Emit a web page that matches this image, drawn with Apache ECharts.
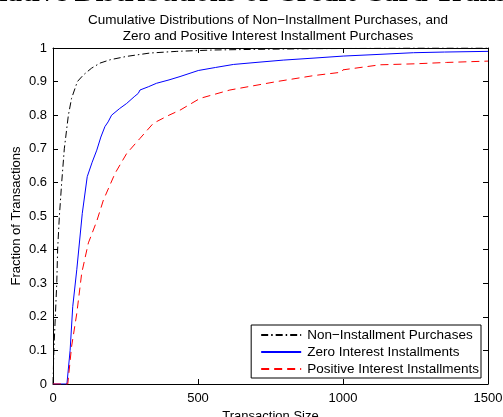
<!DOCTYPE html>
<html>
<head>
<meta charset="utf-8">
<script src="https://cdn.jsdelivr.net/npm/echarts@6/dist/echarts.min.js"></script>
<style>
  html, body { margin: 0; padding: 0; background: #fff; }
  #chart { width: 503px; height: 417px; }
</style>
</head>
<body>
<div id="chart"></div>
<script>
// Cumulative distributions of transaction sizes, by purchase type
const seriesNames = ['Non\u2212Installment Purchases', 'Zero Interest Installments', 'Positive Interest Installments'];

const nonInstX = [0, 3, 8, 13, 16, 22, 30, 39, 53, 64, 84, 105, 133, 162, 197, 254, 334, 427, 550, 700, 900, 1100, 1250, 1500];
const nonInstY = [0, 0.1, 0.2, 0.3, 0.4, 0.5, 0.6, 0.7, 0.8, 0.85, 0.9, 0.92, 0.94, 0.955, 0.965, 0.975, 0.985, 0.99, 0.994, 0.996, 0.998, 0.999, 1, 1];

const zeroX = [0, 48, 59, 68, 82, 101, 118, 135, 151, 165, 179, 190, 202, 230, 254, 280, 294, 300, 330, 357, 400, 438, 501, 560, 622, 700, 794, 900, 1001, 1100, 1243, 1350, 1500];
const zeroY = [0, 0, 0.1, 0.23, 0.34, 0.508, 0.617, 0.66, 0.696, 0.735, 0.766, 0.78, 0.8, 0.82, 0.835, 0.855, 0.865, 0.875, 0.885, 0.895, 0.905, 0.915, 0.933, 0.942, 0.951, 0.957, 0.964, 0.97, 0.976, 0.98, 0.986, 0.988, 0.99];

const posX = [0, 51, 64, 82, 99, 122, 151, 174, 214, 254, 300, 346, 400, 438, 507, 610, 771, 900, 995, 1000, 1128, 1250, 1357, 1500];
const posY = [0, 0, 0.111, 0.21, 0.33, 0.42, 0.485, 0.548, 0.627, 0.686, 0.731, 0.776, 0.8, 0.815, 0.85, 0.875, 0.9, 0.918, 0.928, 0.935, 0.95, 0.953, 0.957, 0.961];

const xTicks = { min: 0, max: 1500, step: 500 };
const yTicks = { min: 0, max: 1, step: 0.1 };

const pairs = (xs, ys) => xs.map((x, i) => [x, ys[i]]);

const font = '"Liberation Sans", Arial, sans-serif';
const chart = echarts.init(document.getElementById('chart'), null, { renderer: 'canvas' });

const frameAxis = {
  axisLine: { show: true, onZero: false, lineStyle: { color: '#000', width: 1 } },
  axisTick: { show: true, inside: true, length: 5, lineStyle: { color: '#000' } },
  splitLine: { show: false }
};

chart.setOption({
  animation: false,
  backgroundColor: '#fff',
  title: [
    {
      text: 'Cumulative Distributions of Credit Card Transactions',
      left: 258, top: -21, textAlign: 'center', padding: 0,
      textStyle: { fontFamily: '"Liberation Serif", "Times New Roman", serif', fontSize: 29, fontWeight: 'bold', color: '#000' }
    },
    {
      text: 'Cumulative Distributions of Non\u2212Installment Purchases, and\nZero and Positive Interest Installment Purchases',
      left: 263, top: 7, textAlign: 'center',
      textStyle: { fontFamily: font, fontSize: 13.5, fontWeight: 'normal', color: '#000', lineHeight: 16 }
    }
  ],
  grid: { left: 53, right: 15, top: 48, bottom: 33, containLabel: false, outerBoundsMode: 'none' },
  legend: {
    orient: 'vertical',
    right: 22, bottom: 39,
    padding: [3, 2, 2, 9],
    itemGap: 3,
    itemWidth: 40, itemHeight: 14,
    backgroundColor: '#fff',
    borderColor: '#000', borderWidth: 1, borderRadius: 0,
    itemStyle: { opacity: 0 },
    textStyle: { fontFamily: font, fontSize: 13.5, color: '#000', padding: [0, 0, 0, 1] },
    data: seriesNames
  },
  xAxis: [
    Object.assign({
      type: 'value', min: xTicks.min, max: xTicks.max, interval: xTicks.step,
      position: 'bottom',
      name: 'Transaction Size', nameLocation: 'middle', nameGap: 22,
      nameTextStyle: { fontFamily: font, fontSize: 13, color: '#000' },
      axisLabel: { fontFamily: font, fontSize: 13, color: '#000', margin: 8, formatter: v => String(v) }
    }, frameAxis),
    Object.assign({
      type: 'value', min: xTicks.min, max: xTicks.max, interval: xTicks.step,
      position: 'top', axisLabel: { show: false }
    }, frameAxis)
  ],
  yAxis: [
    Object.assign({
      type: 'value', min: yTicks.min, max: yTicks.max, interval: yTicks.step,
      position: 'left',
      name: 'Fraction of Transactions', nameLocation: 'middle', nameGap: 30, nameMoveOverlap: false,
      nameTextStyle: { fontFamily: font, fontSize: 13, color: '#000' },
      axisLabel: { fontFamily: font, fontSize: 13, color: '#000', margin: 6, formatter: v => String(Math.round(v * 10) / 10) }
    }, frameAxis),
    Object.assign({
      type: 'value', min: yTicks.min, max: yTicks.max, interval: yTicks.step,
      position: 'right', axisLabel: { show: false }
    }, frameAxis)
  ],
  series: [
    {
      name: seriesNames[0], type: 'line', xAxisIndex: 0, yAxisIndex: 0,
      showSymbol: false, symbol: 'none',
      lineStyle: { color: '#000', width: 1, type: [7, 3, 1.5, 3] },
      itemStyle: { color: '#000' },
      data: pairs(nonInstX, nonInstY)
    },
    {
      name: seriesNames[1], type: 'line', xAxisIndex: 0, yAxisIndex: 0,
      showSymbol: false, symbol: 'none',
      lineStyle: { color: '#0000ff', width: 1, type: 'solid' },
      itemStyle: { color: '#0000ff' },
      data: pairs(zeroX, zeroY)
    },
    {
      name: seriesNames[2], type: 'line', xAxisIndex: 0, yAxisIndex: 0,
      showSymbol: false, symbol: 'none',
      lineStyle: { color: '#ff0000', width: 1, type: [8, 5] },
      itemStyle: { color: '#ff0000' },
      data: pairs(posX, posY)
    }
  ]
});
</script>
</body>
</html>
